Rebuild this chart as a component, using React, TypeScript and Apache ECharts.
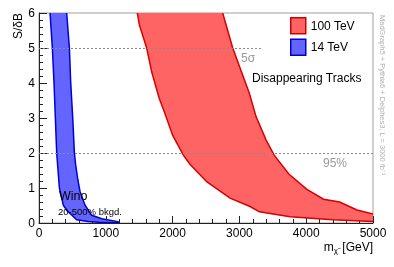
import React, { useEffect, useRef } from "react";
import * as echarts from "echarts";

const xTicks = [0, 1000, 2000, 3000, 4000, 5000];
const yTicks = [0, 1, 2, 3, 4, 5, 6];

// 14 TeV band boundaries [m (GeV), S/dB]
const blue14Left: number[][] = [
  [165, 6], [200, 5], [225, 4], [245, 3], [265, 2], [285, 1.5], [305, 1],
  [364, 0.51], [420, 0.35], [489, 0.23], [564, 0.09], [738, 0.04], [900, 0.02], [1200, 0.01],
];
const blue14Right: number[][] = [
  [414, 6], [455, 5], [475, 4], [505, 3], [530, 2], [549, 1.66], [580, 1.25], [614, 0.9],
  [689, 0.51], [790, 0.22], [940, 0.12], [1180, 0.04], [1200, 0.02],
];

// 100 TeV band boundaries
const red100Left: number[][] = [
  [1472, 6], [1502, 5.66], [1612, 5.0], [1687, 4.32], [1800, 3.56], [1876, 3.18], [2000, 2.51],
  [2161, 1.94], [2260, 1.68], [2510, 1.18], [2860, 0.71], [3160, 0.47], [3300, 0.32],
  [3760, 0.18], [4400, 0.09], [5000, 0.04],
];
const red100Right: number[][] = [
  [2750, 6], [2900, 5.0], [3150, 3.7], [3249, 3.04], [3400, 2.37], [3520, 1.94], [3740, 1.4],
  [4010, 0.96], [4260, 0.68], [4500, 0.6], [4760, 0.37], [5000, 0.26],
];

// reference lines: [y, xEnd]
const line5sigma = { y: 5, xEnd: 3330 };
const line95 = { y: 2, xEnd: 5000 };

const FONT = "'Liberation Sans', Arial, Helvetica, sans-serif";

function bandSeries(name: string, left: number[][], right: number[][], fill: string, stroke: string) {
  return {
    name,
    type: "custom",
    clip: true,
    data: [left[0]],
    itemStyle: { color: fill, borderColor: stroke, borderWidth: 1.5 },
    renderItem: (_params: any, api: any) => {
      const l = left.map((p) => api.coord(p));
      const r = right.map((p) => api.coord(p));
      const poly = l.concat(r.slice().reverse());
      return {
        type: "group",
        children: [
          { type: "polygon", shape: { points: poly }, style: { fill, stroke: "none" } },
          { type: "polyline", shape: { points: l }, style: { fill: "none", stroke, lineWidth: 1.5 } },
          { type: "polyline", shape: { points: r }, style: { fill: "none", stroke, lineWidth: 1.5 } },
        ],
      };
    },
  };
}

export default function App() {
  const ref = useRef<HTMLDivElement>(null);
  useEffect(() => {
    if (!ref.current) return;
    const chart = echarts.init(ref.current, null, { renderer: "svg" });
    const dashStyle = { color: "#8c8c8c", width: 1, type: [2, 2] as any };
    const txt = (x: number, y: number, style: any, rotation = 0) => ({
      type: "text",
      x,
      y,
      z: 100,
      rotation,
      style: { fontFamily: FONT, verticalAlign: "middle", ...style },
    });
    chart.setOption({
      animation: false,
      textStyle: { fontFamily: FONT },
      grid: { left: 39, right: 21, top: 13, bottom: 44, show: true, borderColor: "#a0a0a0", borderWidth: 1 },
      legend: {
        left: 290,
        top: 17,
        padding: 0,
        orient: "vertical",
        itemWidth: 15,
        itemHeight: 16,
        itemGap: 4,
        icon: "rect",
        textStyle: { fontSize: 12, color: "#000", fontFamily: FONT },
        data: [
          { name: "100 TeV", itemStyle: { color: "#ff6464", borderColor: "#d00000", borderWidth: 1.5 } },
          { name: "14 TeV", itemStyle: { color: "#6464ff", borderColor: "#0000d0", borderWidth: 1.5 } },
        ],
      },
      xAxis: {
        type: "value",
        min: xTicks[0],
        max: xTicks[xTicks.length - 1],
        interval: 1000,
        axisLine: { show: true, lineStyle: { color: "#222", width: 1 } },
        axisTick: { show: true, inside: true, length: 7, lineStyle: { color: "#222" } },
        minorTick: { show: true, splitNumber: 5, length: 4, lineStyle: { color: "#222" } },
        splitLine: { show: false },
        axisLabel: { fontSize: 12, color: "#000", margin: 4, fontFamily: FONT, formatter: (v: number) => String(v) },
      },
      yAxis: {
        type: "value",
        min: yTicks[0],
        max: yTicks[yTicks.length - 1],
        interval: 1,
        axisLine: { show: true, lineStyle: { color: "#222", width: 1 } },
        axisTick: { show: true, inside: true, length: 8, lineStyle: { color: "#222" } },
        minorTick: { show: true, splitNumber: 5, length: 4, lineStyle: { color: "#222" } },
        splitLine: { show: false },
        axisLabel: { fontSize: 12, color: "#000", margin: 4, fontFamily: FONT, formatter: (v: number) => String(v) },
      },
      series: [
        bandSeries("100 TeV", red100Left, red100Right, "#ff6464", "#d80000"),
        {
          ...bandSeries("14 TeV", blue14Left, blue14Right, "#6464ff", "#0000d8"),
          markLine: {
            silent: true,
            symbol: "none",
            label: { show: false },
            lineStyle: dashStyle,
            data: [
              [{ coord: [0, line5sigma.y] }, { coord: [line5sigma.xEnd, line5sigma.y] }],
              [{ coord: [0, line95.y] }, { coord: [line95.xEnd, line95.y] }],
            ],
          },
        },
      ],
      graphic: [
        txt(18, 13, { text: "S/δB", fontSize: 12, fill: "#000", align: "right" }, Math.PI / 2),
        txt(373, 247, {
          text: "{a|m}{b|χ̃}{a|\u00a0[GeV]}",
          align: "right",
          rich: {
            a: { fontSize: 12, fill: "#000", fontFamily: FONT },
            b: { fontSize: 8, fill: "#000", fontFamily: FONT, padding: [6, 1, 0, 0] },
          },
        }),
        txt(241, 58, { text: "5σ", fontSize: 12, fill: "#999" }),
        txt(323, 163, { text: "95%", fontSize: 12, fill: "#999" }),
        txt(252, 78, { text: "Disappearing Tracks", fontSize: 12, fill: "#000" }),
        txt(59, 196, { text: "Wino", fontSize: 12.5, fill: "#000" }),
        txt(58, 211, { text: "20-500% bkgd.", fontSize: 9.5, fill: "#000" }),
        txt(382, 15, {
          text: "MadGraph5 + Pythia6 + Delphes3, L = 3000 fb⁻¹",
          fontSize: 7.5,
          fill: "#b0b0b0",
          align: "left",
        }, -Math.PI / 2),
      ],
    });
    return () => chart.dispose();
  }, []);
  return <div ref={ref} style={{ position: "fixed", left: 0, top: 0, width: 394, height: 267 }} />;
}
